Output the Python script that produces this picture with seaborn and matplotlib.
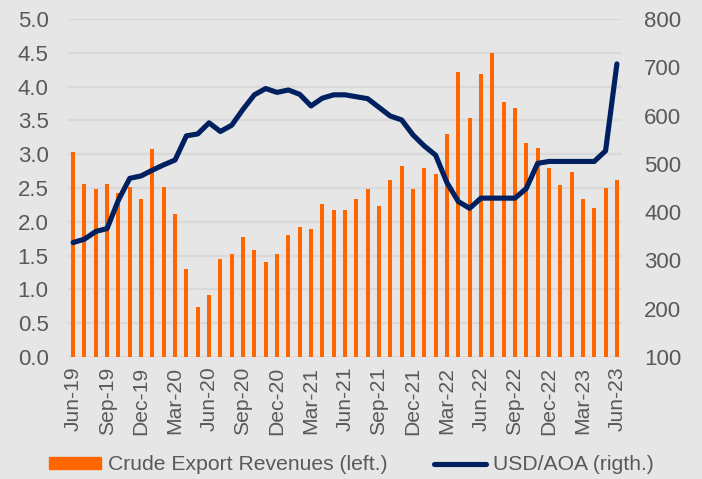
import matplotlib
matplotlib.use("Agg")
import matplotlib.pyplot as plt
import seaborn as sns
import pandas as pd
import numpy as np
from matplotlib.patches import Patch
from matplotlib.lines import Line2D

months = ["Jun-19", "Jul-19", "Aug-19", "Sep-19", "Oct-19", "Nov-19", "Dec-19",
          "Jan-20", "Feb-20", "Mar-20", "Apr-20", "May-20", "Jun-20", "Jul-20",
          "Aug-20", "Sep-20", "Oct-20", "Nov-20", "Dec-20", "Jan-21", "Feb-21",
          "Mar-21", "Apr-21", "May-21", "Jun-21", "Jul-21", "Aug-21", "Sep-21",
          "Oct-21", "Nov-21", "Dec-21", "Jan-22", "Feb-22", "Mar-22", "Apr-22",
          "May-22", "Jun-22", "Jul-22", "Aug-22", "Sep-22", "Oct-22", "Nov-22",
          "Dec-22", "Jan-23", "Feb-23", "Mar-23", "Apr-23", "May-23", "Jun-23"]

revenues = [3.03, 2.56, 2.48, 2.56, 2.42, 2.51, 2.33, 3.07, 2.51, 2.12,
            1.30, 0.74, 0.92, 1.45, 1.53, 1.77, 1.59, 1.41, 1.53, 1.80,
            1.92, 1.89, 2.27, 2.18, 2.18, 2.33, 2.48, 2.24, 2.62, 2.83,
            2.48, 2.80, 2.71, 3.30, 4.21, 3.54, 4.18, 4.50, 3.77, 3.68,
            3.16, 3.09, 2.80, 2.54, 2.74, 2.33, 2.21, 2.50, 2.62]

usd_aoa = [337, 344, 360, 366, 425, 470, 475, 487, 498, 508,
           558, 562, 585, 567, 580, 613, 643, 656, 648, 653,
           644, 620, 636, 643, 643, 639, 635, 617, 599, 591,
           560, 537, 518, 461, 422, 408, 429, 429, 429, 429,
           449, 501, 505, 505, 505, 505, 505, 527, 707]

tick_labels = ["Jun-19", "Sep-19", "Dec-19", "Mar-20", "Jun-20", "Sep-20",
               "Dec-20", "Mar-21", "Jun-21", "Sep-21", "Dec-21", "Mar-22",
               "Jun-22", "Sep-22", "Dec-22", "Mar-23", "Jun-23"]

legend_labels = ["Crude Export Revenues (left.)", "USD/AOA (rigth.)"]

BG = "#E6E6E6"
GRID = "#D9D9D9"
ORANGE = "#FF6600"
NAVY = "#002060"
TXT = "#595959"

sns.set_theme(style="white")
plt.rcParams["font.family"] = ["Liberation Sans", "DejaVu Sans"]

df = pd.DataFrame({"month": months, "idx": np.arange(len(months)),
                   "rev": revenues, "fx": usd_aoa})

fig = plt.figure(figsize=(7.02, 4.79), dpi=100, facecolor=BG)
ax = fig.add_axes([68 / 702, 1 - 357 / 479, (622 - 68) / 702, (357 - 19) / 479])
ax.set_facecolor(BG)

sns.barplot(data=df, x="month", y="rev", color=ORANGE, saturation=1,
            width=0.35, linewidth=0, ax=ax, zorder=2)
ax.set_ylim(0, 5)
ax.set_yticks(np.arange(0, 5.01, 0.5))
ax.set_yticklabels([f"{v:.1f}" for v in np.arange(0, 5.01, 0.5)])
ax.yaxis.grid(True, color=GRID, linewidth=1.6, zorder=0)
ax.set_axisbelow(True)
ax.set_xlim(-0.45, len(months) - 1 + 0.45)
pos = [months.index(t) for t in tick_labels]
ax.set_xticks(pos)
ax.set_xticklabels(tick_labels, rotation=90)
ax.set_xlabel("")
ax.set_ylabel("")
for s in ax.spines.values():
    s.set_visible(False)
ax.tick_params(axis="y", length=0, pad=14, labelsize=16, colors=TXT)
ax.tick_params(axis="x", length=0, pad=7, labelsize=15.2, colors=TXT)

ax2 = ax.twinx()
sns.lineplot(data=df, x="idx", y="fx", color=NAVY, linewidth=3.7, ax=ax2,
             solid_capstyle="round", solid_joinstyle="round")
ax2.set_ylim(100, 800)
ax2.set_yticks(np.arange(100, 801, 100))
ax2.set_ylabel("")
ax2.set_xlabel("")
for s in ax2.spines.values():
    s.set_visible(False)
ax2.tick_params(axis="y", length=0, pad=16, labelsize=16, colors=TXT)
ax2.set_xlim(-0.45, len(months) - 1 + 0.45)

handles = [Patch(facecolor=ORANGE, edgecolor=ORANGE),
           Line2D([0], [0], color=NAVY, linewidth=3.7)]
fig.legend(handles, legend_labels, loc="center", bbox_to_anchor=(0.5, 1 - 465 / 479),
           ncol=2, frameon=False, fontsize=15.2, labelcolor=TXT,
           handlelength=2.5, handleheight=0.5, handletextpad=0.3, columnspacing=2.2)

fig.savefig("out.png", dpi=100, facecolor=BG)
